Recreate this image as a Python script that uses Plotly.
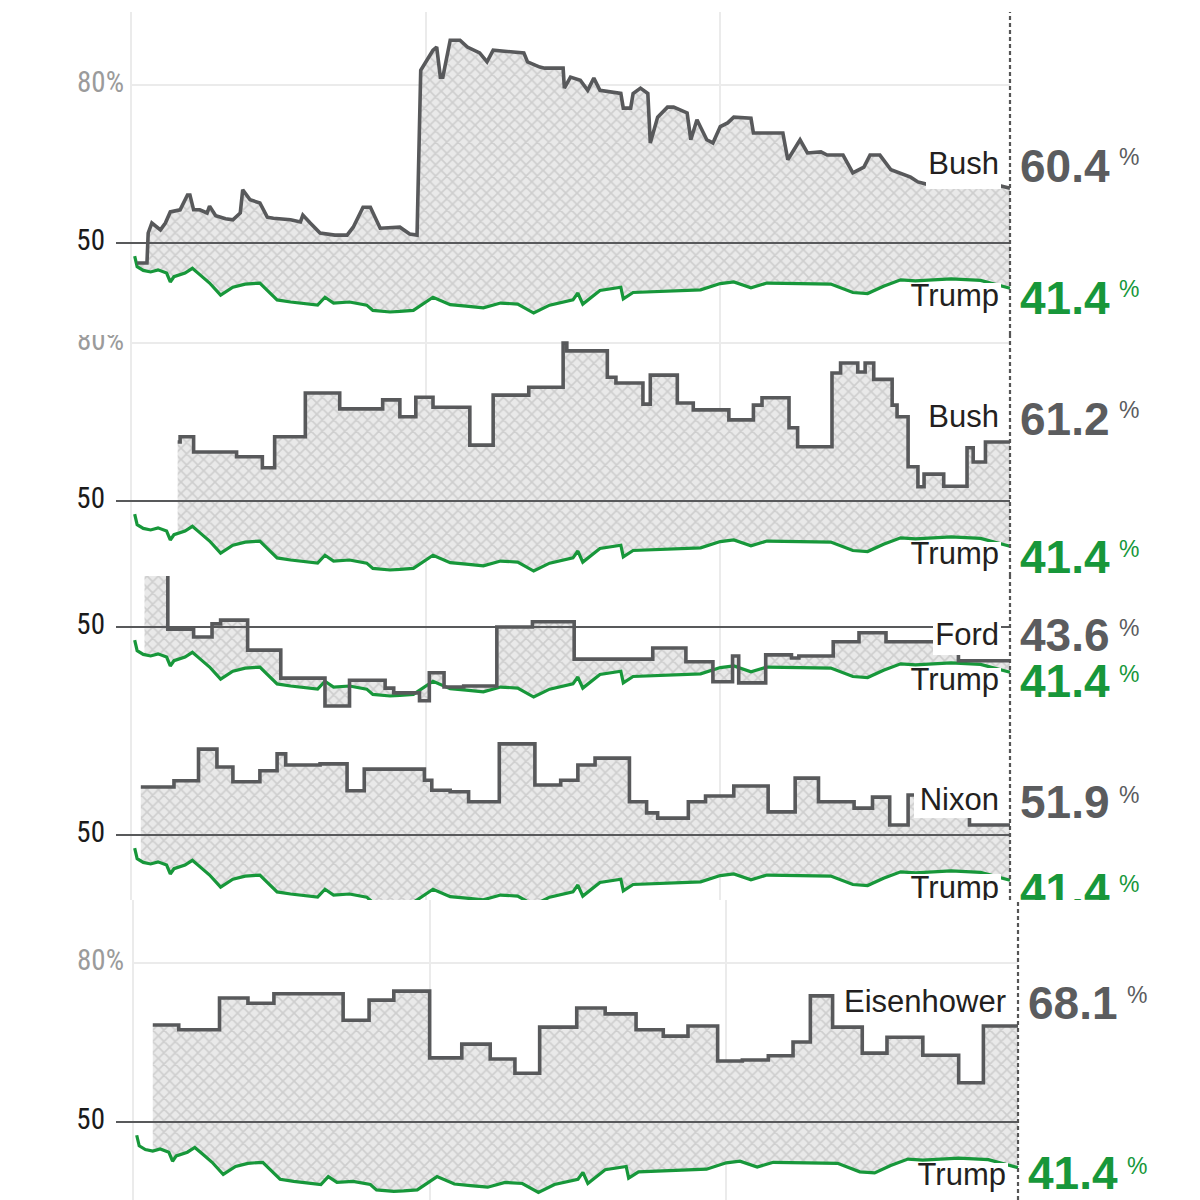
import numpy as np
import plotly.graph_objects as go

# ---------------- data ----------------
END_DAY = 716
GRID_DAYS = [0, 240, 480]

trump_days = [3, 5, 10, 16, 22, 29, 32, 35, 44, 50, 56, 64, 73, 83, 93, 105, 111, 119, 130, 142,
              152, 158, 165, 178, 192, 197, 211, 219, 230, 246, 260, 273, 287, 301, 315, 328, 341,
              360, 364, 368, 382, 399, 401, 409, 437, 464, 480, 491, 505, 518, 545, 570, 588, 600,
              613, 627, 639, 668, 692, 708, 716]
trump_vals = [47.5, 45.5, 44.8, 44.5, 44.9, 44.3, 42.6, 43.6, 44.3, 45.2, 44.0, 42.4, 40.1, 41.6,
              42.2, 42.4, 41.0, 39.2, 38.8, 38.4, 38.2, 39.7, 38.6, 38.8, 38.2, 37.2, 36.9, 37.0,
              37.2, 39.7, 38.3, 38.0, 37.7, 38.6, 38.4, 36.7, 38.2, 39.2, 40.5, 38.4, 41.0, 41.6,
              39.4, 40.6, 40.8, 41.1, 42.3, 42.6, 41.5, 42.4, 42.3, 42.2, 40.6, 40.4, 41.8, 43.0,
              42.8, 43.2, 42.9, 41.9, 41.4]

bush01_days = [5, 13, 14, 17, 24, 28, 32, 40, 46, 48, 51, 56, 62, 64, 69, 77, 83, 89, 91, 97, 105,
               111, 116, 130, 138, 140, 146, 154, 166, 176, 181, 189, 195, 203, 219, 227, 233, 236,
               241, 246, 249, 252, 254, 260, 268, 274, 284, 290, 295, 320, 323, 333, 337, 352, 353,
               358, 366, 372, 377, 382, 399, 401, 407, 409, 415, 421, 423, 429, 437, 442, 453, 456,
               461, 469, 474, 480, 486, 491, 505, 507, 531, 535, 545, 551, 562, 567, 580, 588, 597,
               602, 610, 619, 635, 641, 651, 676, 699, 716]
bush01_vals = [46.2, 46.2, 51.9, 53.8, 52.5, 53.8, 55.9, 56.3, 59.1, 59.1, 56.3, 56.3, 55.7, 57.0,
               55.2, 54.6, 54.4, 55.7, 60.1, 58.2, 57.6, 54.9, 54.7, 54.4, 54.0, 55.3, 53.8, 51.9,
               51.5, 51.5, 53.0, 56.8, 56.8, 52.8, 53.0, 51.7, 51.5, 82.8, 84.7, 86.6, 87.2, 81.5,
               81.5, 88.5, 88.5, 87.2, 86.1, 84.4, 86.6, 86.1, 84.4, 83.4, 83.2, 83.2, 79.4, 81.5,
               80.9, 79.0, 81.3, 79.0, 78.4, 75.6, 75.6, 78.4, 79.4, 78.4, 69.0, 73.9, 75.8, 75.8,
               74.7, 69.6, 73.4, 69.6, 69.0, 72.1, 72.8, 73.9, 73.7, 70.9, 70.9, 65.8, 69.6, 67.1,
               67.3, 66.7, 66.7, 63.3, 64.4, 66.7, 66.7, 63.9, 62.5, 61.6, 61.0, 61.2, 61.4, 60.4]

bush89_days = [38, 40, 51, 86, 107, 117, 142, 170, 205, 219, 232, 246, 276, 295, 324, 352, 355, 388,
               395, 417, 423, 445, 458, 487, 507, 514, 536, 543, 571, 578, 592, 598, 605, 620, 624,
               633, 641, 646, 662, 681, 686, 696]
bush89_vals = [61.2, 62.2, 59.3, 58.4, 56.3, 62.2, 70.5, 67.5, 69.2, 66.0, 69.7, 67.8, 60.6, 70.1,
               71.6, 80.0, 78.5, 73.5, 72.4, 68.4, 73.9, 68.6, 67.3, 65.4, 68.2, 69.6, 63.9, 60.3,
               74.3, 76.2, 74.5, 76.2, 73.1, 68.2, 66.0, 56.5, 52.7, 55.1, 52.8, 60.1, 57.4, 61.2]

ford_days = [11, 30, 51, 66, 73, 95, 122, 158, 178, 207, 214, 235, 243, 255, 271, 298, 327, 361,
             425, 452, 474, 490, 495, 517, 538, 544, 572, 593, 615, 674]
ford_vals = [71.0, 49.6, 48.1, 50.6, 51.3, 45.6, 40.3, 35.0, 39.9, 38.4, 37.5, 36.0, 41.3, 38.6,
             38.8, 50.0, 51.0, 43.9, 46.0, 43.4, 39.6, 44.5, 39.4, 44.7, 44.1, 44.5, 47.2, 48.9,
             47.2, 43.6]

nixon_days = [8, 35, 55, 70, 83, 105, 119, 126, 154, 176, 190, 239, 245, 260, 275, 300, 329, 350,
              364, 378, 406, 420, 429, 454, 468, 491, 519, 541, 560, 589, 604, 618, 633, 683]
nixon_vals = [59.1, 60.3, 66.3, 62.9, 60.1, 62.2, 65.4, 63.3, 63.5, 58.4, 62.5, 60.4, 58.5, 58.2,
              56.3, 67.3, 59.5, 60.4, 63.3, 64.6, 56.3, 54.2, 53.2, 56.3, 57.4, 59.3, 54.4, 60.8,
              56.3, 55.1, 57.2, 51.9, 57.6, 51.9]

ike_days = [16, 37, 70, 93, 114, 170, 191, 211, 240, 266, 289, 309, 329, 359, 382, 407, 429, 449,
            473, 493, 514, 534, 548, 566, 590, 610, 639, 668, 688]
ike_vals = [68.3, 67.4, 73.4, 72.4, 74.2, 69.2, 73.0, 74.7, 62.1, 64.7, 61.9, 59.2, 67.9, 71.5,
            70.4, 67.4, 66.2, 68.1, 61.5, 61.7, 62.5, 65.1, 73.8, 67.9, 63.0, 66.0, 62.6, 57.4,
            68.1]

president_names = ["Bush", "Bush", "Ford", "Nixon", "Eisenhower"]
president_days = [bush01_days, bush89_days, ford_days, nixon_days, ike_days]
president_vals = [bush01_vals, bush89_vals, ford_vals, nixon_vals, ike_vals]
president_shape = ["linear", "hv", "hv", "hv", "hv"]
president_now = [60.4, 61.2, 43.6, 51.9, 68.1]
trump_now = 41.4

# ---------------- layout (pixel geometry of each panel) ----------------
W = H = 1200
PANELS = [
    dict(top=12, bottom=335, y50=243, ppp=158 / 30, x0=131, x1=1010, lab80=True,
         name=(999, 166), num=(1020, 170), pct=(1119, 159),
         tname=(999, 298), tnum=(1020, 302), tpct=(1119, 291),
         boxes=[(926, 1001, 149, 189), (903, 1001, 283, 318)]),
    dict(top=335, bottom=576, y50=501, ppp=158 / 30, x0=131, x1=1010, lab80=True,
         name=(999, 419), num=(1020, 423), pct=(1119, 412),
         tname=(999, 556), tnum=(1020, 561), tpct=(1119, 551),
         boxes=[(926, 1001, 403, 437), (903, 1001, 542, 576)]),
    dict(top=576, bottom=733, y50=627, ppp=158 / 30, x0=131, x1=1010, lab80=False,
         name=(999, 637), num=(1020, 639), pct=(1119, 630),
         tname=(999, 682), tnum=(1020, 685), tpct=(1119, 676),
         boxes=[(933, 1001, 624, 655), (903, 1001, 668, 700)]),
    dict(top=733, bottom=900, y50=835, ppp=158 / 30, x0=131, x1=1010, lab80=False,
         name=(999, 802), num=(1020, 806), pct=(1119, 797),
         tname=(999, 890), tnum=(1020, 894), tpct=(1119, 886),
         boxes=[(914, 1001, 786, 818), (903, 1001, 874, 905)]),
    dict(top=900, bottom=1200, y50=1122, ppp=159 / 30, x0=133, x1=1018, lab80=True,
         name=(1006, 1004), num=(1028, 1007), pct=(1127, 997),
         tname=(1006, 1177), tnum=(1028, 1177), tpct=(1127, 1168),
         boxes=[(842, 1008, 988, 1019), (910, 1008, 1163, 1198)]),
]

GREY = "#58595b"
GREEN = "#17973a"
GRID = "#ebebeb"
NAME_FONT = "Liberation Sans, Arial, Helvetica, sans-serif"
TICK_FONT = "Liberation Sans Narrow, Arial Narrow, Roboto Condensed, DejaVu Sans Condensed, sans-serif"

fig = go.Figure()


def px2day(p, xpx):
    return (xpx - p["x0"]) * END_DAY / (p["x1"] - p["x0"])


def px2val(p, ypx):
    return 50 + (p["y50"] - ypx) / p["ppp"]


def text(p, xa, ya, xy, s, pos, font):
    fig.add_trace(go.Scatter(x=[px2day(p, xy[0])], y=[px2val(p, xy[1])], mode="text", text=[s],
                             textposition=pos, textfont=font, xaxis=xa, yaxis=ya,
                             hoverinfo="skip", showlegend=False, cliponaxis=True))


for i, p in enumerate(PANELS):
    sfx = "" if i == 0 else str(i + 1)
    xa, ya = "x" + sfx, "y" + sfx
    ylo, yhi = px2val(p, p["bottom"]), px2val(p, p["top"])
    days, vals = list(president_days[i]), list(president_vals[i])
    if president_shape[i] == "hv":
        px_days = days + [END_DAY]
        px_vals = vals + [vals[-1]]
    else:
        px_days, px_vals = days, vals

    common = dict(xaxis=xa, yaxis=ya, hoverinfo="skip", showlegend=False)

    # 80% gridline
    if ylo < 80 < yhi:
        fig.add_trace(go.Scatter(x=[0, END_DAY], y=[80, 80], mode="lines",
                                 line=dict(color=GRID, width=2), **common))

    # hatched fill between Trump and the other president
    ps = days[0]
    tx = [ps] + [d for d in trump_days if ps < d < END_DAY] + [END_DAY]
    ty = list(np.interp(tx, trump_days, trump_vals))
    fig.add_trace(go.Scatter(x=tx, y=ty, mode="lines", line=dict(width=0, color="rgba(0,0,0,0)"),
                             **common))
    fig.add_trace(go.Scatter(x=px_days, y=px_vals, mode="lines", line_shape=president_shape[i],
                             line=dict(width=0, color="rgba(0,0,0,0)"), fill="tonexty",
                             fillcolor="#dcdcdc",
                             fillpattern=dict(shape="x", size=8, solidity=0.38,
                                              fgcolor="#b4b4b4", bgcolor="#e9e9e9"),
                             **common))

    # 50% reference line
    fig.add_trace(go.Scatter(x=[px2day(p, 116), END_DAY], y=[50, 50], mode="lines",
                             line=dict(color=GREY, width=2), **common))

    # Trump line
    fig.add_trace(go.Scatter(x=trump_days, y=trump_vals, mode="lines",
                             line=dict(color=GREEN, width=3.2), **common))
    # president line
    fig.add_trace(go.Scatter(x=px_days, y=px_vals, mode="lines", line_shape=president_shape[i],
                             line=dict(color=GREY, width=3.6), **common))

    # dotted "today" line
    fig.add_trace(go.Scatter(x=[END_DAY, END_DAY], y=[ylo, yhi], mode="lines",
                             line=dict(color="#555555", width=2.2, dash="4px,3px"), **common))

    # white label backgrounds
    for (bx0, bx1, by0, by1) in p["boxes"]:
        fig.add_trace(go.Scatter(
            x=[px2day(p, bx0), px2day(p, bx1), px2day(p, bx1), px2day(p, bx0), px2day(p, bx0)],
            y=[px2val(p, by0), px2val(p, by0), px2val(p, by1), px2val(p, by1), px2val(p, by0)],
            mode="lines", fill="toself", fillcolor="white", line=dict(width=0, color="white"),
            **common))

    # axis labels
    if p["lab80"]:
        text(p, xa, ya, (124, p["y50"] - 30 * p["ppp"]), "80%", "middle left",
             dict(family=TICK_FONT, size=29, color="#9b9b9b"))
    text(p, xa, ya, (105, p["y50"]), "50", "middle left",
         dict(family=TICK_FONT, size=29, color="#1a1a1a"))

    # series labels
    text(p, xa, ya, p["name"], president_names[i], "middle left",
         dict(family=NAME_FONT, size=31, color="#231f20"))
    text(p, xa, ya, p["num"], f"{president_now[i]:.1f}", "middle right",
         dict(family=NAME_FONT, size=46, color="#5b5c5e", weight=700))
    text(p, xa, ya, p["pct"], "%", "middle right",
         dict(family=NAME_FONT, size=23, color="#5b5c5e"))
    text(p, xa, ya, p["tname"], "Trump", "middle left",
         dict(family=NAME_FONT, size=31, color="#231f20"))
    text(p, xa, ya, p["tnum"], f"{trump_now:.1f}", "middle right",
         dict(family=NAME_FONT, size=46, color=GREEN, weight=700))
    text(p, xa, ya, p["tpct"], "%", "middle right",
         dict(family=NAME_FONT, size=23, color=GREEN))

    fig.layout["xaxis" + sfx] = dict(domain=[0, 1], range=[px2day(p, 0), px2day(p, W)],
                                     tickvals=GRID_DAYS, showgrid=True, gridcolor=GRID,
                                     gridwidth=2, showticklabels=False, ticks="",
                                     zeroline=False, showline=False, anchor=ya, fixedrange=True)
    fig.layout["yaxis" + sfx] = dict(domain=[1 - p["bottom"] / H, 1 - p["top"] / H],
                                     range=[ylo, yhi], showgrid=False, showticklabels=False,
                                     ticks="", zeroline=False, showline=False, anchor=xa,
                                     fixedrange=True)

fig.update_layout(width=W, height=H, margin=dict(l=0, r=0, t=0, b=0),
                  paper_bgcolor="white", plot_bgcolor="white", showlegend=False)

fig.write_html("out.html", config={"displayModeBar": False})
